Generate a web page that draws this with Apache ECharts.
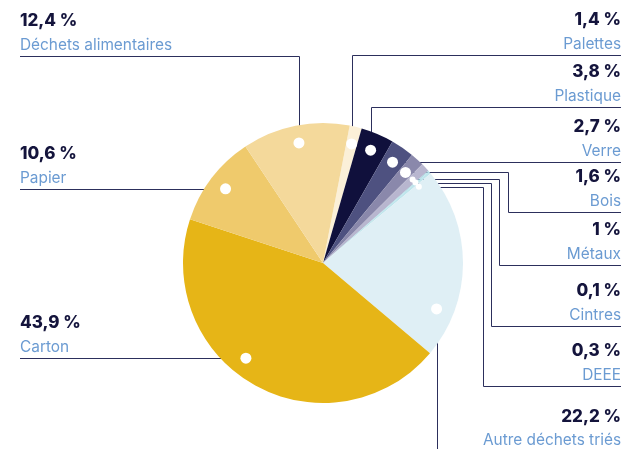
<!DOCTYPE html>
<html>
<head>
<meta charset="utf-8">
<script src="https://cdn.jsdelivr.net/npm/echarts@6/dist/echarts.min.js"></script>
<style>
  html, body { margin: 0; padding: 0; background: #fff; }
  #chart { width: 630px; height: 449px; }
</style>
</head>
<body>
<div id="chart"></div>
<script>
// Données : parts des déchets (%)
const categories = ['Palettes', 'Plastique', 'Verre', 'Bois', 'Métaux', 'Cintres', 'DEEE',
  'Autre déchets triés', 'Carton', 'Papier', 'Déchets alimentaires'];
const shares = [1.4, 3.8, 2.7, 1.6, 1, 0.1, 0.3, 22.2, 43.9, 10.6, 12.4];

const sliceColors = ['#fbf0d8', '#10103c', '#4e5180', '#8a88ab', '#b8b6cf', '#a6dbe3',
  '#bfe5ec', '#dfeff5', '#e6b517', '#efca6c', '#f4d99b'];

// géométrie du camembert (px)
const CX = 323, CY = 263, R = 140, START = 79, DOT_RADIUS = 122.5;
const LEFT_X = 20, RIGHT_X = 621;

// placement des étiquettes / lignes de rappel
const placement = {
  'Palettes': { side: 'right', route: 'up', lineY: 55.5 },
  'Plastique': { side: 'right', route: 'up', lineY: 107.5 },
  'Verre': { side: 'right', route: 'straight' },
  'Bois': { side: 'right', route: 'elbow', elbowX: 508.5, lineY: 212.5 },
  'Métaux': { side: 'right', route: 'elbow', elbowX: 499.5, lineY: 265.5, dot: 3 },
  'Cintres': { side: 'right', route: 'elbow', elbowX: 491.5, lineY: 326.5, dot: 3 },
  'DEEE': { side: 'right', route: 'elbow', elbowX: 483.5, lineY: 386.5, dot: 3, angle: 51.5 },
  'Autre déchets triés': { side: 'right', route: 'down', lineY: 452, angle: 112 },
  'Carton': { side: 'left', route: 'straight', angle: 219 },
  'Papier': { side: 'left', route: 'straight' },
  'Déchets alimentaires': { side: 'left', route: 'up', lineY: 56.5 }
};

const fmt = v => String(v).replace('.', ',') + ' %';

// points blancs : angle médian de chaque part (sens horaire depuis midi)
const total = shares.reduce((a, b) => a + b, 0);
let cum = 0;
const dots = shares.map((v, i) => {
  const p = placement[categories[i]];
  let a = (90 - START) + (cum + v / 2) / total * 360;
  cum += v;
  if (p.angle != null) a = p.angle;
  const rad = a * Math.PI / 180;
  return { x: CX + DOT_RADIUS * Math.sin(rad), y: CY - DOT_RADIUS * Math.cos(rad), r: p.dot || 5.5 };
});

function layoutFor(i) {
  const p = placement[categories[i]];
  const d = dots[i];
  const endX = p.side === 'left' ? LEFT_X : RIGHT_X;
  let lineY = p.lineY;
  let pts;
  if (p.route === 'straight') {
    lineY = Math.round(d.y) + 0.5;
    pts = [[d.x, lineY], [endX, lineY]];
  } else if (p.route === 'up') {
    const x = Math.round(d.x) + 0.5;
    pts = [[x, d.y], [x, lineY], [endX, lineY]];
  } else if (p.route === 'elbow') {
    const y = Math.round(d.y) + 0.5;
    pts = [[d.x, y], [p.elbowX, y], [p.elbowX, lineY], [endX, lineY]];
  } else {
    const x = Math.round(d.x) + 0.5;
    pts = [[x, d.y], [x, 449]];
  }
  return {
    x: endX,
    y: lineY + 0.5,
    align: p.side === 'left' ? 'left' : 'right',
    verticalAlign: 'bottom',
    labelLinePoints: pts
  };
}

const chart = echarts.init(document.getElementById('chart'), null, { renderer: 'canvas' });

chart.setOption({
  animation: false,
  backgroundColor: '#fff',
  series: [{
    type: 'pie',
    center: [CX, CY],
    radius: R,
    startAngle: START,
    clockwise: true,
    avoidLabelOverlap: false,
    silent: true,
    emphasis: { disabled: true },
    itemStyle: { borderWidth: 0 },
    data: categories.map((name, i) => ({
      name: name,
      value: shares[i],
      itemStyle: { color: sliceColors[i] }
    })),
    label: {
      show: true,
      position: 'outside',
      formatter: p => '{p|' + fmt(p.value) + '}\n{n|' + p.name + '}',
      rich: {
        p: { fontFamily: 'Inter', fontSize: 17, fontWeight: 800, color: '#14143c', lineHeight: 24 },
        n: { fontFamily: 'Inter', fontSize: 15.4, color: '#6b9bd2', lineHeight: 24 }
      }
    },
    labelLine: {
      show: true,
      length: 5,
      length2: 5,
      smooth: false,
      lineStyle: { color: '#2c2f5c', width: 1 }
    },
    labelLayout: params => layoutFor(params.dataIndex)
  }],
  graphic: dots.map(d => ({
    type: 'circle',
    silent: true,
    z: 100,
    shape: { cx: d.x, cy: d.y, r: d.r },
    style: { fill: '#ffffff' }
  }))
});
</script>
</body>
</html>
